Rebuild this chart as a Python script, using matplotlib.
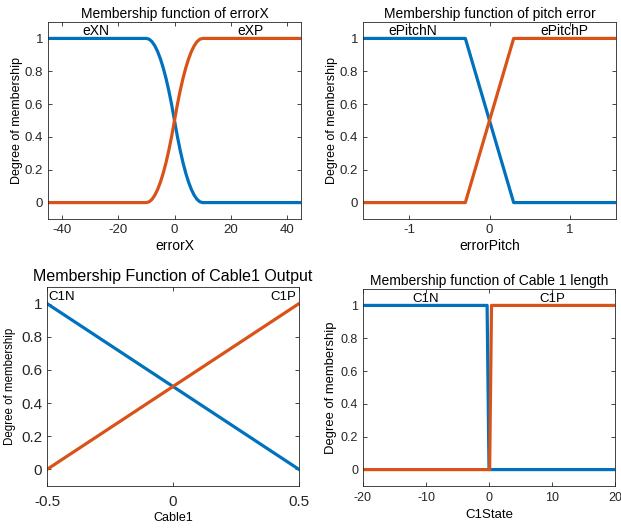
import matplotlib
matplotlib.use("Agg")
import matplotlib.pyplot as plt
import numpy as np

plt.rcParams['font.family'] = ['Liberation Sans', 'DejaVu Sans']
plt.rcParams['axes.unicode_minus'] = False

BLUE = '#0072BD'
ORANGE = '#D95319'
GRAY = '#262626'

# Panel 1: errorX (S-shaped curves)
ex_x = [-45, -10, -9, -8, -7, -6, -5, -4, -3, -2, -1, 0, 1, 2, 3, 4, 5, 6, 7, 8, 9, 10, 45]
ex_neg = [1, 1, 0.995, 0.98, 0.955, 0.92, 0.875, 0.82, 0.755, 0.68, 0.595, 0.5,
          0.405, 0.32, 0.245, 0.18, 0.125, 0.08, 0.045, 0.02, 0.005, 0, 0]
ex_pos = [0, 0, 0.005, 0.02, 0.045, 0.08, 0.125, 0.18, 0.245, 0.32, 0.405, 0.5,
          0.595, 0.68, 0.755, 0.82, 0.875, 0.92, 0.955, 0.98, 0.995, 1, 1]
ex_labels = ['eXN', 'eXP']
ex_label_x = [-28, 27]

# Panel 2: errorPitch (trapezoids)
ep_x = [-1.5708, -0.3, 0.3, 1.5708]
ep_neg = [1, 1, 0, 0]
ep_pos = [0, 0, 1, 1]
ep_labels = ['ePitchN', 'ePitchP']
ep_label_x = [-0.95, 0.93]

# Panel 3: Cable1 output (linear)
c1o_x = [-0.5, 0.5]
c1o_neg = [1, 0]
c1o_pos = [0, 1]
c1o_labels = ['C1N', 'C1P']

# Panel 4: Cable 1 length (steps)
c1s_neg_x = [-20, -0.3, 0, 20]
c1s_neg = [1, 1, 0, 0]
c1s_pos_x = [-20, 0.1, 0.4, 20]
c1s_pos = [0, 0, 1, 1]
c1s_labels = ['C1N', 'C1P']
c1s_label_x = [-10, 10]

W, H = 621, 529
fig = plt.figure(figsize=(W / 100, H / 100), dpi=100)


def make_ax(l, r, t, b):
    return fig.add_axes([l / W, (H - b) / H, (r - l) / W, (b - t) / H])


def style(ax, tick_fs):
    for s in ax.spines.values():
        s.set_color(GRAY)
        s.set_linewidth(0.6)
    ax.tick_params(direction='in', length=3, width=0.6, top=True, right=True,
                   colors=GRAY, labelsize=tick_fs, pad=3.6)
    ax.set_ylim(-0.1, 1.1)
    ax.set_yticks([0, 0.2, 0.4, 0.6, 0.8, 1])
    ax.set_yticklabels(['0', '0.2', '0.4', '0.6', '0.8', '1'])


LW = 2.3

# Top-left
ax1 = make_ax(48, 301, 22, 219)
ax1.plot(ex_x, ex_neg, color=BLUE, lw=LW)
ax1.plot(ex_x, ex_pos, color=ORANGE, lw=LW)
ax1.set_xlim(-45, 45)
ax1.set_xticks([-40, -20, 0, 20, 40])
style(ax1, 9.5)
ax1.set_title('Membership function of errorX', fontsize=10, pad=3)
ax1.set_xlabel('errorX', fontsize=10, labelpad=2.5)
ax1.set_ylabel('Degree of membership', fontsize=9, labelpad=1.5)
for lx, t in zip(ex_label_x, ex_labels):
    ax1.text(lx, 1.005, t, ha='center', va='bottom', fontsize=10)

# Top-right
ax2 = make_ax(363, 616, 22, 219)
ax2.plot(ep_x, ep_neg, color=BLUE, lw=LW)
ax2.plot(ep_x, ep_pos, color=ORANGE, lw=LW)
ax2.set_xlim(-1.5708, 1.5708)
ax2.set_xticks([-1, 0, 1])
style(ax2, 9.5)
ax2.set_title('Membership function of pitch error', fontsize=10, pad=3)
ax2.set_xlabel('errorPitch', fontsize=10, labelpad=2.5)
ax2.set_ylabel('Degree of membership', fontsize=9, labelpad=1)
for lx, t in zip(ep_label_x, ep_labels):
    ax2.text(lx, 1.005, t, ha='center', va='bottom', fontsize=10)

# Bottom-left
ax3 = make_ax(47, 299, 287, 486)
ax3.plot(c1o_x, c1o_neg, color=BLUE, lw=LW)
ax3.plot(c1o_x, c1o_pos, color=ORANGE, lw=LW)
ax3.set_xlim(-0.5, 0.5)
ax3.set_xticks([-0.5, 0, 0.5])
ax3.set_xticklabels(['-0.5', '0', '0.5'])
style(ax3, 11)
ax3.tick_params(axis='x', pad=6.5)
ax3.set_title('Membership Function of Cable1 Output', fontsize=11.5, pad=4)
ax3.set_xlabel('Cable1', fontsize=9, labelpad=2)
ax3.set_ylabel('Degree of membership', fontsize=8.3, labelpad=3.5)
ax3.text(-0.495, 1.005, c1o_labels[0], ha='left', va='bottom', fontsize=9.5)
ax3.text(0.49, 1.005, c1o_labels[1], ha='right', va='bottom', fontsize=9.5)

# Bottom-right
ax4 = make_ax(363, 615, 289, 486)
ax4.plot(c1s_neg_x, c1s_neg, color=BLUE, lw=LW)
ax4.plot(c1s_pos_x, c1s_pos, color=ORANGE, lw=LW)
ax4.set_xlim(-20, 20)
ax4.set_xticks([-20, -10, 0, 10, 20])
style(ax4, 9)
ax4.tick_params(axis='x', pad=4.5)
ax4.set_title('Membership function of Cable 1 length', fontsize=10, pad=3)
ax4.set_xlabel('C1State', fontsize=9.5, labelpad=3.5)
ax4.set_ylabel('Degree of membership', fontsize=9.4, labelpad=2.5)
for lx, t in zip(c1s_label_x, c1s_labels):
    ax4.text(lx, 1.0, t, ha='center', va='bottom', fontsize=9.5)

fig.savefig('out.png', dpi=100, facecolor='white')
